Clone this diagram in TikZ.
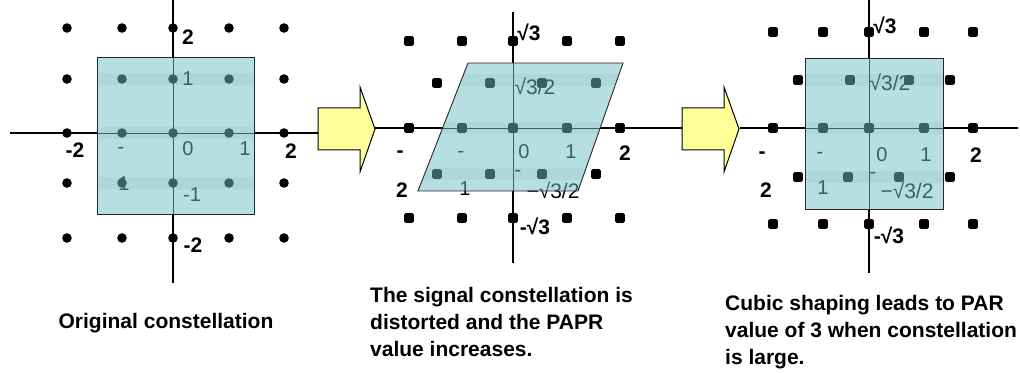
\documentclass[tikz,border=0pt]{standalone}
\usepackage{fontspec}
\setmainfont{Liberation Sans}
\definecolor{regionteal}{RGB}{112,190,196}
\definecolor{arrowyellow}{RGB}{255,255,153}
\tikzset{
  axis/.style={line width=2.8pt},
  thinaxis/.style={line width=.9pt},
  region/.style={fill=regionteal, fill opacity=.5, draw=black!85, line width=.9pt},
  band/.style={fill=regionteal!70!black, fill opacity=.08},
  boldlbl/.style={font=\fontsize{21}{21}\selectfont\bfseries, inner sep=0pt},
  graylbl/.style={font=\fontsize{20}{20}\selectfont, inner sep=0pt},
  rootlbl/.style={font=\fontsize{21}{21}\selectfont, inner sep=0pt},
  caption/.style={font=\fontsize{21}{27}\selectfont\bfseries, align=left, inner sep=0pt, anchor=north west},
  bigarrow/.style={fill=arrowyellow, draw=black, line width=1pt, line join=miter},
}

\begin{document}
\begin{tikzpicture}[x=1pt,y=-1pt]
\useasboundingbox (0,0) rectangle (1020,374);

% original constellation
\draw[axis] (173,0) -- (173,283);
\draw[axis] (10,133) -- (318,133);
\fill[white] (97,57) rectangle (254,214);
\draw[thinaxis] (173,57) -- (173,214) (97,133) -- (254,133);
\foreach \x in {67,122,173,229,284}
  \foreach \y in {28,79,133,183,238}
    \fill (\x,\y) circle (4.8);
\node[graylbl] (o1) at (188,79) {1};
\node[graylbl] (om) at (121,150) {-};
\node[graylbl] (o0) at (188,149) {0};
\node[graylbl] (or) at (245,149) {1};
\node[graylbl] (ol) at (124,184) {1};
\node[graylbl] (od) at (192,195) {-1};
\path[region] (97,57) rectangle (254,214);
\foreach \y in {79,133,183}
  \fill[band] (97,\y-6) rectangle (254,\y+6);
\node[boldlbl] (otop) at (188,37) {2};
\node[boldlbl] (oleft) at (75,150) {-2};
\node[boldlbl] (oright) at (291,151) {2};
\node[boldlbl] (obot) at (193,245) {-2};

% distorted constellation
\draw[axis] (513,12) -- (513,263);
\draw[axis] (375,128) -- (682,128);
\fill[white] (418,191) -- (578,191) -- (623,63) -- (468,63) -- cycle;
\draw[thinaxis] (513,63) -- (513,191) (443,128) -- (600,128);
\foreach \x in {409,462,513,567,620}
  \foreach \y in {41,128,218}
    \fill[rounded corners=1.5pt] (\x-4.8,\y-4.8) rectangle ++(9.6,9.6);
\foreach \x in {437,490,542,596}
  \foreach \y in {83,174}
    \fill[rounded corners=1.5pt] (\x-4.8,\y-4.8) rectangle ++(9.6,9.6);
\node[rootlbl] (dhalf) at (535,86) {√3/2};
\node[graylbl] (dm) at (461,154) {-};
\node[graylbl] (d0) at (524,152) {0};
\node[graylbl] (d1) at (571,152) {1};
\node[graylbl] (dl) at (465,189) {1};
\node[graylbl] (ds) at (518,173) {-};
\node[rootlbl] (dnhalf) at (553,190) {−√3/2};
\path[region] (418,191) -- (578,191) -- (623,63) -- (468,63) -- cycle;
\begin{scope}
  \clip (418,191) -- (578,191) -- (623,63) -- (468,63) -- cycle;
  \foreach \y in {80,128,174}
    \fill[band] (410,\y-6) rectangle (630,\y+6);
\end{scope}
\node[boldlbl] (dtop) at (529,32) {√3};
\node[boldlbl] (dlm) at (400,154) {-};
\node[boldlbl] (dlt) at (402,190) {2};
\node[boldlbl] (dright) at (625,153) {2};
\node[boldlbl] (dbot) at (535,226) {-√3};

% cubic shaping
\draw[axis] (869,0) -- (869,273);
\draw[axis] (740,128) -- (1018,128);
\fill[white] (805,58) rectangle (943,209);
\draw[thinaxis] (869,58) -- (869,209) (805,128) -- (943,128);
\foreach \x in {773,823,869,924,973}
  \foreach \y in {32,128,224}
    \fill[rounded corners=1.5pt] (\x-4.8,\y-4.8) rectangle ++(9.6,9.6);
\foreach \x/\y in {798/80,850/80,909/80,950/80,798/177,848/177,899/177,950/177}
  \fill[rounded corners=1.5pt] (\x-4.8,\y-4.8) rectangle ++(9.6,9.6);
\node[rootlbl] (chalf) at (890,82) {√3/2};
\node[graylbl] (cm) at (820,155) {-};
\node[graylbl] (c0) at (882,155) {0};
\node[graylbl] (c1) at (926,155) {1};
\node[graylbl] (cl) at (823,188) {1};
\node[graylbl] (cs) at (873,175) {-};
\node[rootlbl] (cnhalf) at (907,190) {−√3/2};
\path[region] (805,58) rectangle (943,209);
\foreach \y in {80,128,177}
  \fill[band] (805,\y-6) rectangle (943,\y+6);
\node[boldlbl] (ctop) at (885,25) {√3};
\node[boldlbl] (clm) at (762,155) {-};
\node[boldlbl] (clt) at (766,190) {2};
\node[boldlbl] (cright) at (976,155) {2};
\node[boldlbl] (cbot) at (889,235) {-√3};

% arrows
\foreach \ax in {0,364}
  \draw[bigarrow] ({318+\ax},108) -- ({360+\ax},108) -- ({360+\ax},87) -- ({375+\ax},129)
    -- ({360+\ax},172) -- ({360+\ax},150) -- ({318+\ax},150) -- cycle;

% captions
\node[caption, anchor=base] (capone) at (166,328) {Original constellation};
\node[caption] (captwo) at (370,287) {The signal constellation is\\distorted and the PAPR\\value increases.};
\node[caption] (capthree) at (725,295) {Cubic shaping leads to PAR\\value of 3 when constellation\\is large.};
\end{tikzpicture}
\end{document}
